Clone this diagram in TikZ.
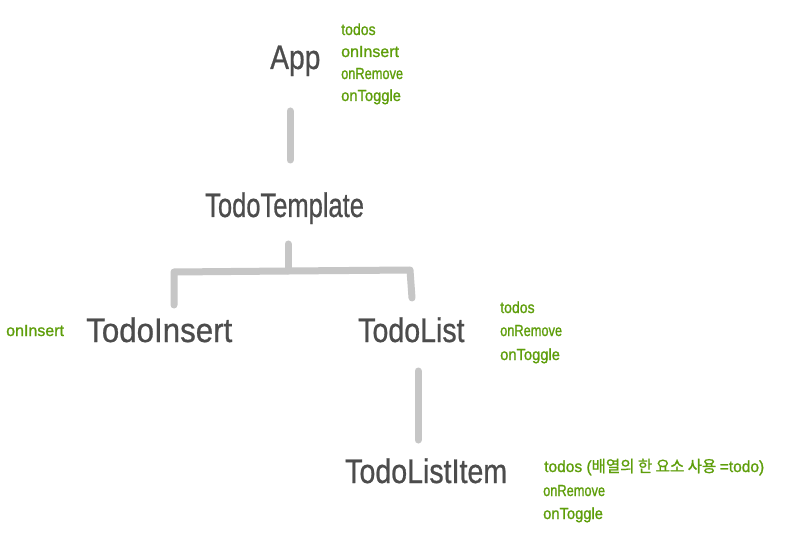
\documentclass[tikz,border=0pt]{standalone}
\usepackage{fontspec}
\setmainfont{Liberation Sans}
\newfontfamily\notefont[FakeBold=1.2]{Liberation Sans}
\newfontfamily\compfont[FakeBold=0.8]{Liberation Sans}
\newfontfamily\krfont[FakeBold=1.2]{Noto Sans CJK KR}
\definecolor{inkgray}{HTML}{4C4C4C}
\definecolor{leaf}{HTML}{5E9E0A}
\definecolor{wire}{HTML}{C6C6C6}
\begin{document}
\begin{tikzpicture}[x=1pt,y=-1pt,
  comp/.style={inner sep=0pt, anchor=base west, text=inkgray, font=\compfont\fontsize{34}{40}\selectfont},
  note/.style={inner sep=0pt, anchor=base west, text=leaf, font=\notefont\fontsize{16}{20}\selectfont},
  link/.style={draw=wire, line width=7pt, line cap=round, line join=round}]
\useasboundingbox (0,0) rectangle (800,545);
\fill[white] (0,0) rectangle (800,545);

% components
\node[comp] (app) at (270,69) {\scalebox{0.83}[1]{App}};
\node[comp] (tmpl) at (205,217) {\scalebox{0.75}[1]{TodoTemplate}};
\node[comp] (ins) at (86,342) {\scalebox{0.92}[1]{TodoInsert}};
\node[comp] (list) at (358,342) {\scalebox{0.84}[1]{TodoList}};
\node[comp] (item) at (345,483) {\scalebox{0.84}[1]{TodoListItem}};

% props
\node[note] (p1) at (341,35) {\scalebox{0.88}[1]{todos}};
\node[note] (p2) at (341,57) {\scalebox{1.0}[1]{onInsert}};
\node[note] (p3) at (341,79) {\scalebox{0.8}[1]{onRemove}};
\node[note] (p4) at (341,101) {\scalebox{0.92}[1]{onToggle}};

\node[note] (q0) at (6,336) {\scalebox{1.0}[1]{onInsert}};

\node[note] (r1) at (500,313) {\scalebox{0.88}[1]{todos}};
\node[note] (r2) at (500,336) {\scalebox{0.8}[1]{onRemove}};
\node[note] (r3) at (500,360) {\scalebox{0.92}[1]{onToggle}};

\node[note] (s1) at (544,472) {\scalebox{0.97}[1]{todos (\krfont 배열의 한 요소 사용 \notefont =todo)}};
\node[note] (s2) at (543,496) {\scalebox{0.8}[1]{onRemove}};
\node[note] (s3) at (543,519) {\scalebox{0.92}[1]{onToggle}};

% connector end points
\coordinate (a1) at (290,111);
\coordinate (a2) at (290,160);
\coordinate (t1) at (288,244);
\coordinate (t2) at (288,271);
\coordinate (bl) at (174,272);
\coordinate (bld) at (174,305);
\coordinate (br) at (410,270);
\coordinate (brd) at (412,298);
\coordinate (l1) at (418,371);
\coordinate (l2) at (418,440);

\draw[link] (a1) -- (a2);
\draw[link] (t1) -- (t2);
\draw[link] (bld) -- (bl) -- (t2) -- (br) -- (brd);
\draw[link] (l1) -- (l2);
\end{tikzpicture}
\end{document}
